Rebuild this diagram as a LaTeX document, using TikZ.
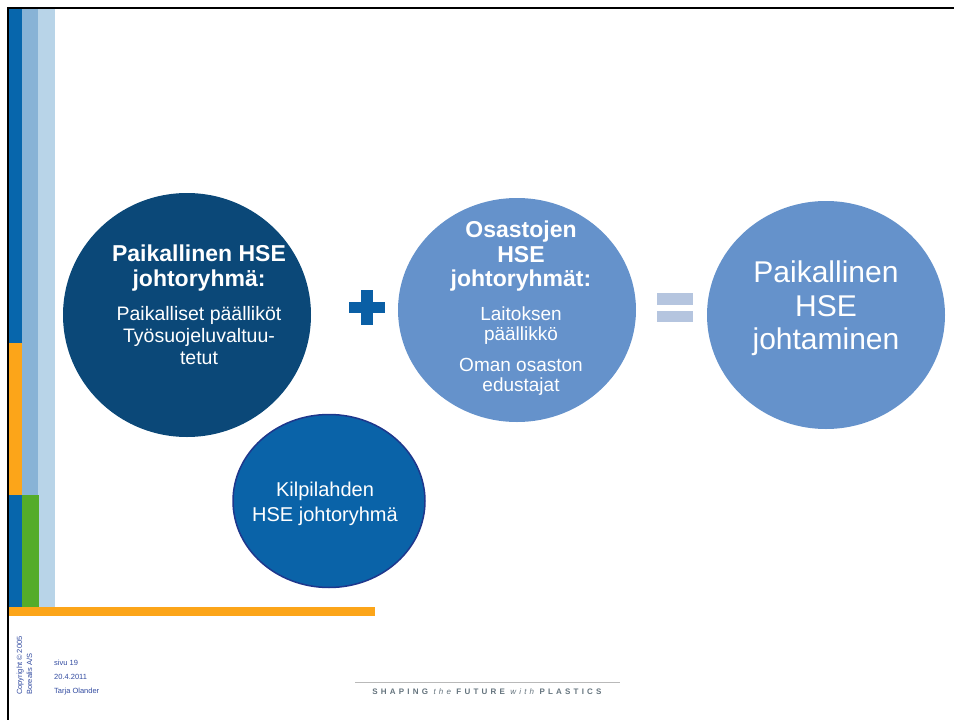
\documentclass[tikz,border=0pt]{standalone}
\usepackage{fontspec}
\setmainfont{Liberation Sans}
\newfontfamily\slogfont[LetterSpace=40]{Liberation Sans}
\usetikzlibrary{shapes.geometric}

\definecolor{navy}{RGB}{11,72,120}
\definecolor{midblue}{RGB}{101,146,203}
\definecolor{kilpi}{RGB}{10,99,168}
\definecolor{kilpiedge}{RGB}{30,55,140}
\definecolor{stripeA}{RGB}{7,102,172}
\definecolor{stripeB}{RGB}{136,179,214}
\definecolor{stripeC}{RGB}{184,212,232}
\definecolor{borange}{RGB}{252,165,25}
\definecolor{bgreen}{RGB}{84,172,42}
\definecolor{plusblue}{RGB}{10,95,165}
\definecolor{eqgray}{RGB}{181,197,223}
\definecolor{foottext}{RGB}{50,75,160}
\definecolor{sloggray}{RGB}{100,115,125}

\tikzset{
  blob/.style={ellipse, inner sep=0pt},
  headtext/.style={align=center, text=white, inner sep=0pt, anchor=north, font=\fontsize{23}{24.5}\selectfont\bfseries},
  bodytext/.style={align=center, text=white, inner sep=0pt, anchor=north, font=\fontsize{19.5}{22}\selectfont},
  foot/.style={text=foottext, inner sep=0pt, anchor=base west, font=\fontsize{7.5}{9}\selectfont},
}

\begin{document}
\begin{tikzpicture}[x=1pt,y=-1pt]
\useasboundingbox (0,0) rectangle (954,720);

% stripes on the left
\fill[stripeA] (9,9) rectangle (22,607);
\fill[borange] (9,343) rectangle (22,495);
\fill[stripeB] (22,9) rectangle (38,495);
\fill[stripeC] (38,9) rectangle (55,607);
\fill[bgreen] (22,495) rectangle (39,607);
\fill[borange] (9,607) rectangle (375,616);
\draw[line width=2.5pt] (8,720) -- (8,8) -- (954,8);

% circles
\node[blob, fill=navy, minimum width=248, minimum height=244] (lokal) at (187,315) {};
\node[blob, fill=midblue, minimum width=238, minimum height=224] (osasto) at (517,310) {};
\node[blob, fill=midblue, minimum width=238, minimum height=228] (tulos) at (826,315) {};
\node[blob, fill=kilpi, draw=kilpiedge, line width=1.5pt, minimum width=192, minimum height=173] (kilpi) at (329,501) {};

\node[headtext] (lokalhead) at (199,245) {Paikallinen HSE\\johtoryhmä:};
\node[bodytext] (lokalbody) at (199,306) {Paikalliset päälliköt\\Työsuojeluvaltuu-\\tetut};

\node[headtext] (osastohead) at (521,221) {Osastojen\\HSE\\johtoryhmät:};
\node[bodytext, font=\fontsize{19}{20}\selectfont] (osastobody) at (521,307) {Laitoksen\\päällikkö\\[11pt]Oman osaston\\edustajat};

\node[bodytext, font=\fontsize{30}{33.5}\selectfont] (tulostext) at (826,261) {Paikallinen\\HSE\\johtaminen};

\node[bodytext, font=\fontsize{20}{25}\selectfont] (kilpitext) at (325,482) {Kilpilahden\\HSE johtoryhmä};

% plus and equals
\fill[plusblue] (349,302) rectangle (385,313);
\fill[plusblue] (361,290) rectangle (373,325);
\fill[eqgray] (657,293) rectangle (693,305);
\fill[eqgray] (657,311) rectangle (693,322);

% footer
\node[foot, rotate=90] (copy) at (22,695) {Copyright © 2005};
\node[foot, rotate=90] (borealis) at (32,695) {Borealis A/S};
\node[foot] (sivu) at (54,665) {sivu 19};
\node[foot] (pvm) at (54,679) {20.4.2011};
\node[foot] (tekija) at (54,693) {Tarja Olander};

\draw[gray!55, line width=1pt] (355,682) -- (620,682);
\node[inner sep=0pt, anchor=base, text=sloggray, font=\fontsize{8}{9}\selectfont] (slogan) at (487,694)
  {\slogfont\bfseries SHAPING {\itshape\mdseries the} FUTURE {\itshape\mdseries with} PLASTICS};
\end{tikzpicture}
\end{document}
